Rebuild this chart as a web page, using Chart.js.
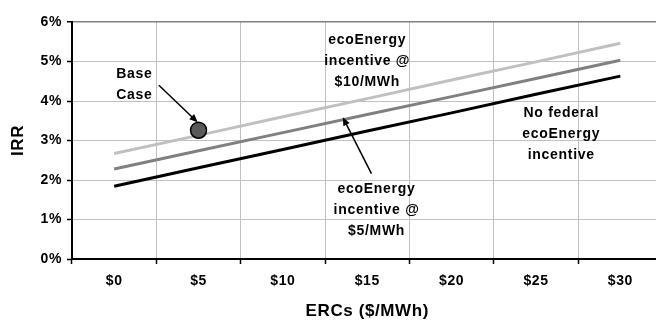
<!DOCTYPE html>
<html>
<head>
<meta charset="utf-8">
<script src="https://cdn.jsdelivr.net/npm/chart.js@4"></script>
<style>
  body { margin: 0; overflow: hidden; background: #fff; }
</style>
</head>
<body>
<canvas id="irrChart" width="672" height="328"></canvas>
<script>
// ERC price categories and IRR (%) for each incentive case
const ercLabels = ['$0', '$5', '$10', '$15', '$20', '$25', '$30'];
const noIncentive = [1.84, 2.31, 2.77, 3.24, 3.70, 4.17, 4.63];
const incentive5 = [2.28, 2.74, 3.20, 3.66, 4.11, 4.57, 5.03];
const incentive10 = [2.67, 3.13, 3.60, 4.06, 4.53, 4.99, 5.46];
const baseCase = [null, 3.26, null, null, null, null, null];

// callouts, placed in data units (x = category index, y = IRR %)
const notes = [
    { lines: ['Base', 'Case'], x: 0.24, y: 4.68 },
    { lines: ['ecoEnergy', 'incentive @', '$10/MWh'], x: 3.0, y: 5.54 },
    { lines: ['No federal', 'ecoEnergy', 'incentive'], x: 5.30, y: 3.69 },
    { lines: ['ecoEnergy', 'incentive @', '$5/MWh'], x: 3.11, y: 1.78 },
];
const arrows = [
    { from: [0.53, 4.40], to: [0.99, 3.46] },
    { from: [3.05, 2.16], to: [2.71, 3.59] },
];

const FONT = '"Liberation Sans", Arial, sans-serif';

const spacing = {
    id: 'spacing',
    beforeDraw(chart) {
        chart.ctx.letterSpacing = '0.6px';
    }
};

const callouts = {
    id: 'callouts',
    afterDatasetsDraw(chart) {
        const ctx = chart.ctx;
        const xs = chart.scales.x;
        const ys = chart.scales.y;
        ctx.save();
        ctx.letterSpacing = '0.7px';
        ctx.fillStyle = '#000';
        ctx.strokeStyle = '#000';
        ctx.font = 'bold 14px ' + FONT;
        ctx.textAlign = 'center';
        ctx.textBaseline = 'middle';
        notes.forEach(n => {
            const px = xs.getPixelForValue(n.x);
            const py = ys.getPixelForValue(n.y);
            n.lines.forEach((t, i) => ctx.fillText(t, px, py + i * 21));
        });
        arrows.forEach(a => {
            const x1 = xs.getPixelForValue(a.from[0]), y1 = ys.getPixelForValue(a.from[1]);
            const x2 = xs.getPixelForValue(a.to[0]), y2 = ys.getPixelForValue(a.to[1]);
            const ang = Math.atan2(y2 - y1, x2 - x1);
            ctx.lineWidth = 1.5;
            ctx.beginPath();
            ctx.moveTo(x1, y1);
            ctx.lineTo(x2 - 6 * Math.cos(ang), y2 - 6 * Math.sin(ang));
            ctx.stroke();
            ctx.beginPath();
            ctx.moveTo(x2, y2);
            ctx.lineTo(x2 - 9 * Math.cos(ang - 0.4), y2 - 9 * Math.sin(ang - 0.4));
            ctx.lineTo(x2 - 9 * Math.cos(ang + 0.4), y2 - 9 * Math.sin(ang + 0.4));
            ctx.closePath();
            ctx.fill();
        });
        ctx.restore();
    }
};

const lineStyle = {
    borderWidth: 3,
    pointRadius: 0,
    fill: false,
    tension: 0,
};

new Chart(document.getElementById('irrChart'), {
    type: 'line',
    data: {
        labels: ercLabels,
        datasets: [
            {
                label: 'Base Case',
                data: baseCase,
                showLine: false,
                pointRadius: 8,
                pointBackgroundColor: '#595959',
                pointBorderColor: '#000',
                pointBorderWidth: 1.5,
                order: 0,
            },
            { label: 'ecoEnergy incentive @ $10/MWh', data: incentive10, borderColor: '#c0c0c0', order: 1, ...lineStyle },
            { label: 'ecoEnergy incentive @ $5/MWh', data: incentive5, borderColor: '#808080', order: 2, ...lineStyle },
            { label: 'No federal ecoEnergy incentive', data: noIncentive, borderColor: '#000', order: 3, ...lineStyle },
        ]
    },
    options: {
        responsive: false,
        animation: false,
        devicePixelRatio: 1,
        layout: { padding: { top: 22, right: 8, bottom: 0, left: 0 } },
        plugins: {
            legend: { display: false },
            tooltip: { enabled: false },
        },
        scales: {
            x: {
                offset: true,
                grid: {
                    offset: true,
                    color: '#c0c0c0',
                    tickColor: '#000',
                    tickLength: 5,
                    tickWidth: 1.5,
                },
                border: { color: '#000', width: 2 },
                ticks: {
                    color: '#000',
                    padding: 9,
                    font: { family: FONT, size: 14, weight: 'bold' },
                },
                title: {
                    display: true,
                    text: 'ERCs ($/MWh)',
                    color: '#000',
                    padding: { top: 0, bottom: 6 },
                    font: { family: FONT, size: 17, weight: 'bold' },
                },
                afterFit(scale) { scale.height = 69; },
            },
            y: {
                min: 0,
                max: 6,
                ticks: {
                    stepSize: 1,
                    color: '#000',
                    padding: 5,
                    font: { family: FONT, size: 14, weight: 'bold' },
                    callback: v => v + '%',
                },
                grid: {
                    color: ctx => ctx.tick && ctx.tick.value === 6 ? '#808080' : '#c0c0c0',
                    lineWidth: ctx => ctx.tick && ctx.tick.value === 6 ? 1.5 : 1,
                    tickColor: '#000',
                    tickLength: 5,
                    tickWidth: 1.5,
                },
                border: { color: '#000', width: 2 },
                title: {
                    display: true,
                    text: 'IRR',
                    color: '#000',
                    padding: { top: 8, bottom: 0 },
                    font: { family: FONT, size: 17, weight: 'bold' },
                },
                afterFit(scale) { scale.width = 72; },
            }
        }
    },
    plugins: [spacing, callouts],
});
</script>
</body>
</html>
